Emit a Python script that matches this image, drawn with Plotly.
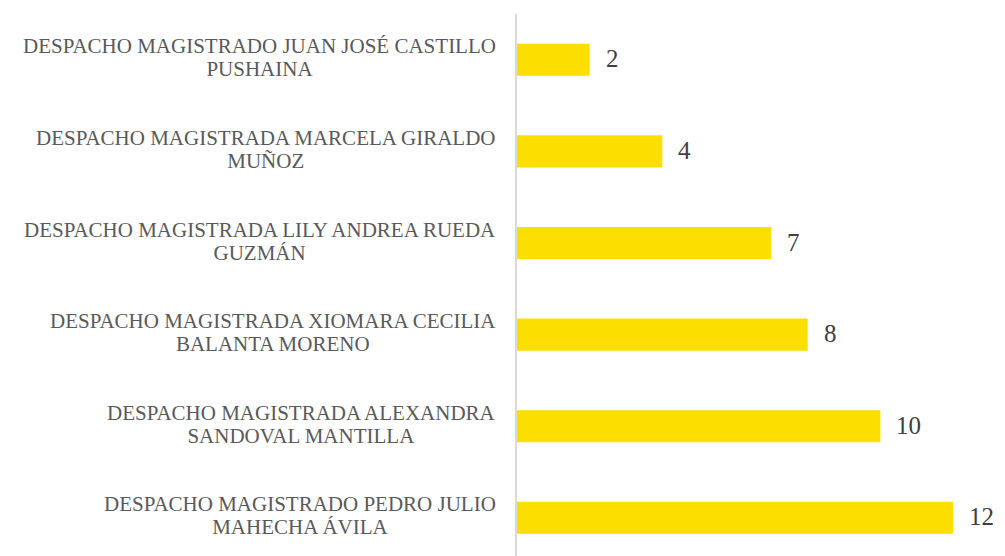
import plotly.graph_objects as go

categories = [
    "DESPACHO MAGISTRADO JUAN JOSÉ CASTILLO<br>PUSHAINA",
    "DESPACHO MAGISTRADA MARCELA GIRALDO<br>MUÑOZ",
    "DESPACHO MAGISTRADA LILY ANDREA RUEDA<br>GUZMÁN",
    "DESPACHO MAGISTRADA XIOMARA CECILIA<br>BALANTA MORENO",
    "DESPACHO MAGISTRADA ALEXANDRA<br>SANDOVAL MANTILLA",
    "DESPACHO MAGISTRADO PEDRO JULIO<br>MAHECHA ÁVILA",
]
values = [2, 4, 7, 8, 10, 12]

SERIF = "Liberation Serif, Times New Roman, serif"

fig = go.Figure(go.Bar(
    x=values, y=categories, orientation="h",
    marker=dict(color="#FCDE00", line=dict(width=0)),
    hoverinfo="skip",
))

annotations = []
for c, v in zip(categories, values):
    styled = "<br>".join(
        '<span style="font-size:21px">%s</span>' % part for part in c.split("<br>")
    )
    annotations.append(dict(
        x=0, xref="paper", y=c, yref="y", text=styled, showarrow=False,
        xanchor="right", yanchor="middle", align="center", xshift=-19, yshift=2,
        font=dict(family=SERIF, size=17.7, color="#595959"),
    ))
    annotations.append(dict(
        x=v, xref="x", y=c, yref="y", text=str(v), showarrow=False,
        xanchor="left", yanchor="middle", xshift=14, yshift=1,
        font=dict(family=SERIF, size=25, color="#404040"),
    ))

fig.update_layout(
    width=997, height=548,
    margin=dict(l=509, r=0, t=6, b=0),
    paper_bgcolor="white", plot_bgcolor="white",
    bargap=0.65,
    showlegend=False,
    annotations=annotations,
    xaxis=dict(range=[0, 13.43], showgrid=False, zeroline=False,
               showticklabels=False, showline=False),
    yaxis=dict(categoryorder="array", categoryarray=categories,
               range=[5.417, -0.5], showgrid=False, zeroline=False,
               showticklabels=False, showline=True, linecolor="#D9D9D9",
               linewidth=1.5),
)

fig.write_html("out.html")
